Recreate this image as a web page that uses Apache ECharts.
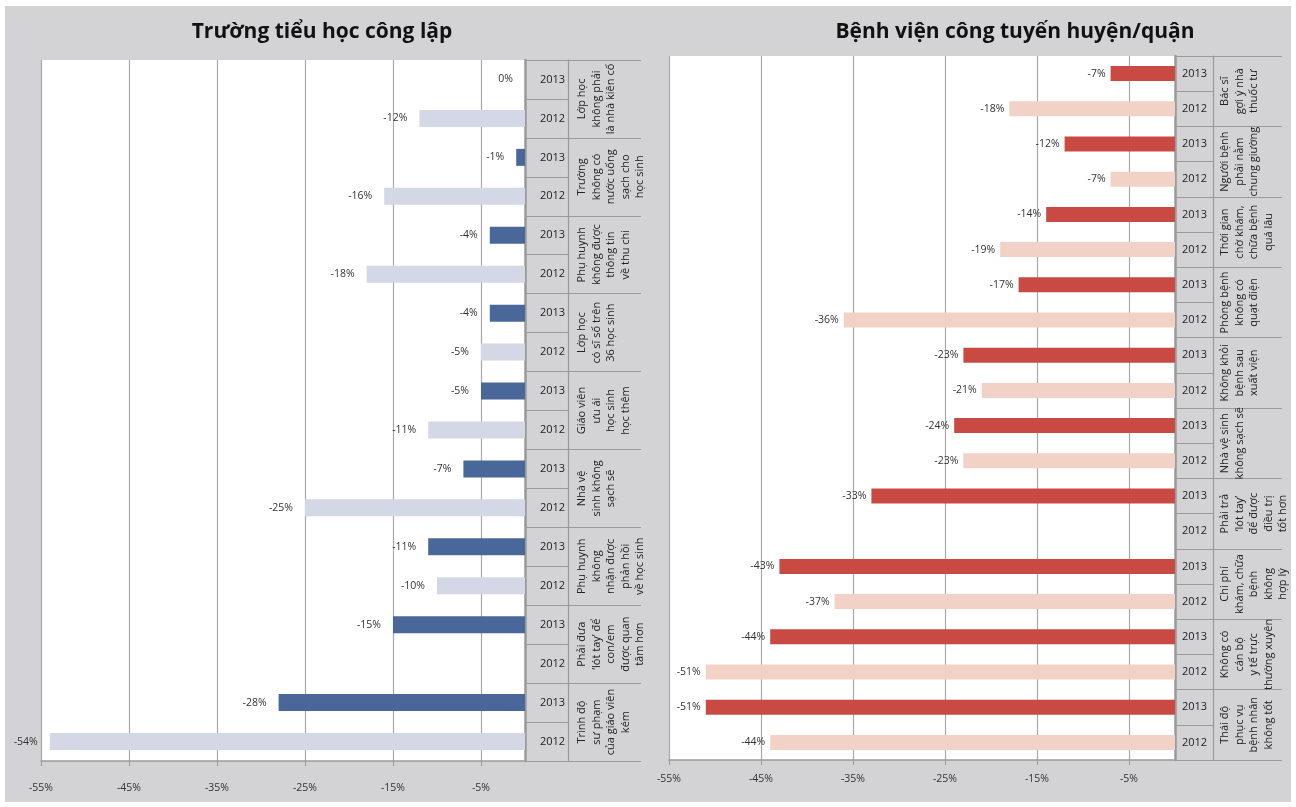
<!DOCTYPE html>
<html>
<head>
<meta charset="utf-8">
<script src="https://cdn.jsdelivr.net/npm/echarts@6/dist/echarts.min.js"></script>
<style>
  html, body { margin: 0; padding: 0; background: #ffffff; }
  #chart { position: absolute; left: 5px; top: 6px; width: 1286px; height: 796px; background: #d3d3d5; }
</style>
</head>
<body>
<div id="chart"></div>
<script>
// Trường tiểu học công lập: nhóm vấn đề và mức thay đổi (%)
const schoolGroups = [
  'Lớp học\nkhông phải\nlà nhà kiên cố',
  'Trường\nkhông có\nnước uống\nsạch cho\nhọc sinh',
  'Phụ huynh\nkhông được\nthông tin\nvề thu chi',
  'Lớp học\ncó sĩ số trên\n36 học sinh',
  'Giáo viên\nưu ái\nhọc sinh\nhọc thêm',
  'Nhà vệ\nsinh không\nsạch sẽ',
  'Phụ huynh\nkhông\nnhận được\nphản hồi\nvề học sinh',
  'Phải đưa\n‘lót tay’ để\ncon/em\nđược quan\ntâm hơn',
  'Trình độ\nsư phạm\ncủa giáo viên\nkém'
];
const school2013 = [0, -1, -4, -4, -5, -7, -11, -15, -28];
const school2012 = [-12, -16, -18, -5, -11, -25, -10, null, -54];

// Bệnh viện công tuyến huyện/quận
const hospitalGroups = [
  'Bác sĩ\ngợi ý nhà\nthuốc tư',
  'Người bệnh\nphải nằm\nchung giường',
  'Thời gian\nchờ khám,\nchữa bệnh\nquá lâu',
  'Phòng bệnh\nkhông có\nquạt điện',
  'Không khỏi\nbệnh sau\nxuất viện',
  'Nhà vệ sinh\nkhông sạch sẽ',
  'Phải trả\n‘lót tay’\nđể được\nđiều trị\ntốt hơn',
  'Chi phí\nkhám, chữa\nbệnh\nkhông\nhợp lý',
  'Không có\ncán bộ\ny tế trực\nthường xuyên',
  'Thái độ\nphục vụ\nbệnh nhân\nkhông tốt'
];
const hospital2013 = [-7, -12, -14, -17, -23, -24, -33, -43, -44, -51];
const hospital2012 = [-18, -7, -19, -36, -21, -23, null, -37, -51, -44];

const years = ['2013', '2012'];
const axisTicks = { min: -55, max: 0, interval: 10 };

const FONT = "'Open Sans', 'Noto Sans', sans-serif";
const LINE = '#9a9a9a';

// one row per (group, year); rows of the other year stay empty
function rowKeys(groups) {
  const keys = [];
  groups.forEach((g, i) => years.forEach(y => keys.push(i + '|' + y)));
  return keys;
}
function rowValues(vals, yearIdx) {
  const out = [];
  vals.forEach(v => { out.push(yearIdx === 0 ? v : null); out.push(yearIdx === 1 ? v : null); });
  return out;
}

function panel(idx, groups, v2013, v2012, colors, cfg) {
  const keys = rowKeys(groups);
  const xAxis = {
    gridIndex: idx, type: 'value',
    min: axisTicks.min, max: axisTicks.max, interval: axisTicks.interval,
    axisLine: { show: true, lineStyle: { color: LINE, width: 1.5 } },
    axisTick: { show: true, length: 5, lineStyle: { color: LINE } },
    axisLabel: {
      showMaxLabel: false, margin: cfg.xLabelMargin, fontFamily: FONT, fontSize: 10.5, color: '#333',
      formatter: v => v + '%'
    },
    splitLine: { show: true, lineStyle: { color: '#a8a8a8', width: 1.2 } }
  };
  const yYear = {
    gridIndex: idx, type: 'category', data: keys, inverse: true, position: 'right',
    axisLine: { show: true, onZero: false, lineStyle: { color: LINE, width: 2.5 } },
    axisTick: { show: true, interval: 0, length: cfg.yearWidth, lineStyle: { color: LINE, width: 1.2 } },
    axisLabel: {
      interval: 0, margin: cfg.yearMargin, align: 'left', fontFamily: FONT, fontSize: 11, color: '#222',
      formatter: k => k.split('|')[1]
    },
    splitLine: { show: false }
  };
  const yGroup = {
    gridIndex: idx, type: 'category', data: groups, inverse: true, position: 'right',
    offset: cfg.yearWidth,
    axisLine: { show: true, onZero: false, lineStyle: { color: LINE, width: 1.2 } },
    axisTick: { show: true, interval: 0, length: cfg.groupWidth, lineStyle: { color: LINE, width: 1.2 } },
    axisLabel: {
      interval: 0, rotate: 90, margin: cfg.groupMargin, align: 'center', verticalAlign: 'top',
      fontFamily: FONT, fontSize: 11, lineHeight: 14.5, color: '#222'
    },
    splitLine: { show: false }
  };
  const labelFmt = p => (p.value == null ? '' : p.value + '%');
  const mkSeries = (vals, yi) => ({
    type: 'bar', name: years[yi],
    xAxisIndex: idx, yAxisIndex: idx * 2,
    data: rowValues(vals, yi),
    barWidth: cfg.barWidth, barGap: '-100%',
    itemStyle: { color: colors[yi] },
    label: {
      show: true, position: 'left', distance: cfg.labelDist,
      fontFamily: FONT, fontSize: 10.5, color: '#333', formatter: labelFmt
    },
    silent: true
  });
  return { xAxis, yAxes: [yYear, yGroup], series: [mkSeries(v2013, 0), mkSeries(v2012, 1)] };
}

const left = panel(0, schoolGroups, school2013, school2012, ['#4a6799', '#d3d7e6'],
  { xLabelMargin: 22, yearWidth: 43, yearMargin: 15, groupWidth: 73, groupMargin: 7, barWidth: 17, labelDist: 12 });
const right = panel(1, hospitalGroups, hospital2013, hospital2012, ['#c84a42', '#f2d1c6'],
  { xLabelMargin: 14, yearWidth: 38, yearMargin: 7, groupWidth: 69, groupMargin: 5, barWidth: 15, labelDist: 5 });

const chart = echarts.init(document.getElementById('chart'), null, { renderer: 'canvas' });
chart.setOption({
  animation: false,
  backgroundColor: 'transparent',
  textStyle: { fontFamily: FONT },
  graphic: [
    { type: 'text', x: 317, y: 26, style: { text: 'Trường tiểu học công lập', align: 'center', verticalAlign: 'middle',
      font: "bold 21px 'Open Sans', 'Noto Sans', sans-serif", fill: '#111' } },
    { type: 'text', x: 1010, y: 26, style: { text: 'Bệnh viện công tuyến huyện/quận', align: 'center', verticalAlign: 'middle',
      font: "bold 21px 'Open Sans', 'Noto Sans', sans-serif", fill: '#111' } }
  ],
  grid: [
    { left: 36, top: 54, width: 484, height: 701, show: true, backgroundColor: '#ffffff', borderWidth: 0, containLabel: false },
    { left: 664, top: 50, width: 506, height: 704, show: true, backgroundColor: '#ffffff', borderWidth: 0, containLabel: false }
  ],
  xAxis: [left.xAxis, right.xAxis],
  yAxis: [...left.yAxes, ...right.yAxes],
  series: [...left.series, ...right.series]
});
</script>
</body>
</html>
